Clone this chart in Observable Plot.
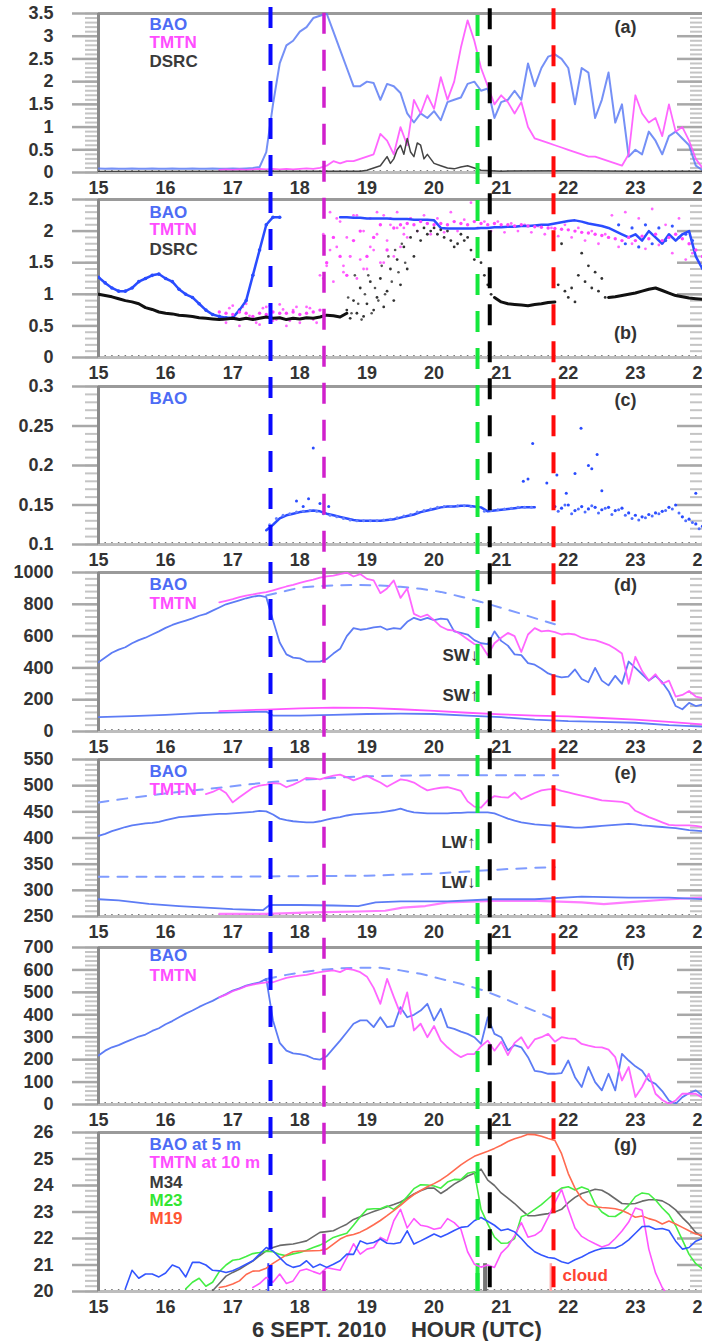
<!DOCTYPE html>
<html><head><meta charset="utf-8">
<script src="https://cdn.jsdelivr.net/npm/d3@7"></script>
<script src="https://cdn.jsdelivr.net/npm/@observablehq/plot@0.6"></script>
<style>
html,body{margin:0;padding:0;background:#fff;}
#wrap{position:relative;width:702px;height:1341px;overflow:hidden;font-family:"Liberation Sans",Arial,sans-serif;}
#xlabel{position:absolute;left:252px;top:1318px;font-size:22px;line-height:24px;font-weight:bold;color:#333;white-space:pre;font-family:"Liberation Sans",Arial,sans-serif;}
</style></head><body><div id="wrap"><div id="xlabel">6 SEPT. 2010    HOUR (UTC)</div></div><script>
// ---------- DATA (hours UTC, 6 Sept 2010) ----------
const hourTicks = [15,16,17,18,19,20,21,22,23,24];
const eventHours = [17.563, 18.36, 20.648, 20.83, 21.78];
const markerHours = [17.53, 20.648, 20.76, 21.74];
const markerTop = 21.05;

// (a)
const baoA = [0.09,0.08,0.09,0.08,0.08,0.09,0.08,0.08,0.09,0.08,
 0.08,0.09,0.08,0.08,0.09,0.08,0.08,0.09,0.08,0.08,
 0.09,0.08,0.09,0.1,0.12,0.45,1.5,2.4,2.8,2.9,
 3.1,3.2,3.4,3.45,3.5,3.1,2.7,2.3,1.9,1.9,
 2.0,1.97,1.6,1.95,1.9,1.75,1.3,1.1,1.3,1.2,
 1.35,1.15,1.55,1.6,1.65,1.95,2.0,1.8,1.85,1.2,
 1.55,1.6,1.8,1.6,2.4,1.9,2.3,2.55,2.6,2.5,
 2.3,1.5,2.3,2.2,1.2,1.6,2.2,1.1,1.5,0.35,
 0.5,0.4,0.9,0.7,0.4,0.8,0.9,0.75,0.6,0.15,
 0.05];
const tmtnA = [0.06,0.07,
 0.06,0.07,0.06,0.07,0.08,0.07,0.08,0.07,0.08,0.07,
 0.08,0.09,0.08,0.1,0.15,0.25,0.2,0.25,0.25,0.3,
 0.35,0.4,0.85,0.7,0.4,1.0,0.6,1.6,1.3,1.7,
 1.4,2.1,1.6,2.0,2.75,3.35,2.9,2.3,1.9,1.5,
 1.7,1.55,1.3,1.55,1.0,0.75,0.7,0.65,0.6,0.55,
 0.5,0.45,0.4,0.35,0.35,0.3,0.25,0.2,0.15,0.4,
 1.7,1.3,1.1,1.2,0.8,1.5,0.9,1.0,0.7,0.3,
 0.1];
const dsrcA = [[15.0,0.02],[18.9,0.03],[19.0,0.05],[19.1,0.1],[19.2,0.15],[19.3,0.35],[19.35,0.2],[19.4,0.3],[19.45,0.5],[19.5,0.6],[19.55,0.4],[19.6,0.75],[19.65,0.45],[19.7,0.35],[19.75,0.65],[19.8,0.6],[19.85,0.3],[19.9,0.4],[20.0,0.2],[20.1,0.15],[20.2,0.1],[20.3,0.08],[20.4,0.12],[20.5,0.15],[20.6,0.1],[20.7,0.05],[21.0,0.03],[22.0,0.04],[23.0,0.03],[24.0,0.03]];

// (b)
const baoB1 = [1.27,1.18,1.1,1.05,1.05,1.1,1.2,1.25,1.3,1.32,
 1.25,1.2,1.08,1.0,0.95,0.85,0.75,0.68,0.65,0.63,
 0.63,0.75,0.9,1.3,1.7,2.1,2.22,2.22];
const baoB2 = [2.22,2.22,2.21,2.21,
 2.2,2.2,2.2,2.2,2.19,2.19,2.19,2.18,2.18,2.18,
 2.17,2.05,2.04,2.04,2.04,2.04,2.04,2.05,2.05,2.06,
 2.06,2.07,2.07,2.08,2.08,2.09,2.1,2.1,2.12,2.14,
 2.16,2.17,2.15,2.12,2.1,2.08,2.05,2.0,1.95,1.9,
 1.95,1.85,2.0,1.9,1.8,1.95,1.85,1.95,2.0,1.6,
 1.4];
const baoBscatter = [2.1,1.8,2.05,1.75,2.1,1.8,2.05,1.85,2.08,1.9,1.95,1.85];
const tmtnB = [0.72,0.7,
 0.68,0.72,0.7,0.65,0.7,0.68,0.72,0.7,0.7,0.72,
 0.68,0.7,0.72,0.75,1.5,1.9,1.6,1.3,1.85,2.0,
 1.6,1.9,2.1,1.7,2.05,2.1,2.12,2.1,2.15,2.12,
 2.1,2.12,2.1,2.15,2.12,2.1,2.15,2.12,2.1,2.12,
 2.1,2.1,2.08,2.1,2.08,2.07,2.06,2.05,2.04,2.03,
 2.02,2.0,1.98,1.97,1.95,1.93,1.9,1.88,1.85,1.9,
 1.85,1.92,1.88,1.95,1.85,1.9,1.95,1.88,1.8,1.7,
 1.6];
const tmtnB2 = [0.6,0.78,0.62,0.8,0.66,0.55,0.78,0.82,0.6,0.76,
 0.58,0.8,0.62,0.78,0.55,1.25,1.7,2.2,1.45,1.6,
 2.25,1.4,1.75,2.3,1.5,2.2,2.05,1.95,2.2,2.0,
 2.25,1.95,2.2,1.98,2.3,2.0,2.18,2.45,2.05,2.15,
 2.0,2.15,1.98,2.12,2.0,2.1,1.98,2.08,1.95,2.05,
 1.92,2.1,1.9,2.05,1.85,2.0,1.8,1.95,2.25,1.75,
 2.3,1.8,2.2,1.72,2.35,1.78,2.1,1.65,2.2,1.55,
 1.65,1.5];
const tmtnB3 = [1.3,1.95,1.45,2.3,1.2,1.75,2.15,1.35,1.9,1.6,2.25,1.25,1.55,2.0,1.4,2.2,1.7,1.95,1.5,2.25,1.85,2.1,1.6,2.3,1.75,2.05,1.9,2.2];
const tmtnBlow = [0.55,0.82,0.5,0.85,0.6,0.52,0.8,0.58,0.84,0.5,0.75,0.55,0.8,0.6];
const dsrcB1 = [1.0,0.98,0.96,0.93,0.9,0.88,0.85,0.79,0.76,0.72,
 0.7,0.69,0.67,0.66,0.65,0.63,0.62,0.61,0.6,0.61,
 0.62,0.6,0.62,0.6,0.62,0.64,0.62,0.63,0.6,0.62,
 0.61,0.63,0.62,0.64,0.67,0.66,0.64,0.7];
const dsrcBscat1 = [0.75,0.62,0.9,0.7,1.1,0.65,0.85,1.2,0.75,0.95,
 1.25,0.8,1.05,1.4,0.9,1.55,1.15,1.75,1.4,1.9,
 1.6,2.0,1.85,2.05,1.95,2.0,2.05,1.95,2.02,1.9,
 2.0,1.85,1.75,1.8,1.95,1.85,1.9,1.7,1.55,1.75,
 1.5,1.3,1.15,1.0];
const dsrcBscat2 = [0.95,0.7,1.3,0.85,0.6,1.0,1.3,0.7,1.1,0.9,1.45,1.0,1.6,1.2,1.7,1.35,1.8,1.5];
const dsrcBscat3 = [1.15,1.8,1.05,0.95,1.1,0.88,1.3,1.65,1.2,1.45,1.1,1.35,1.05,1.25,0.95];
const dsrcB2 = [0.95,0.88,0.85,0.84,0.83,0.82,0.84,0.85,0.87,0.88];
const dsrcB3 = [0.95,0.96,0.98,1.0,1.02,1.05,1.08,1.1,1.06,1.02,0.98,0.96,0.94,0.93,0.92];

// (c)
const baoC = [0.118,0.125,0.133,0.137,0.139,
 0.141,0.142,0.143,0.142,0.139,0.137,0.135,0.133,0.131,0.13,
 0.13,0.13,0.13,0.131,0.132,0.134,0.136,0.138,0.141,0.143,
 0.145,0.147,0.148,0.148,0.149,0.149,0.148,0.147,0.142,0.143,
 0.144,0.145,0.146,0.147,0.147,0.147];
const baoC2 = [0.148,0.146,0.15,0.143,0.148,0.145,0.147,0.144,0.147,0.143,0.146,0.14,0.137,0.135,0.138,0.14,0.142,0.147,0.15,0.135,0.132,0.126,0.123];
const baoC3 = [0.142,0.15,0.139,0.145,0.141,0.149,0.14,0.146,0.138,0.144,0.137,0.133,0.131,0.134,0.136,0.139,0.143,0.145,0.14,0.13,0.128,0.12];
const baoCout = [[18.13,0.158],[17.95,0.155],[18.05,0.148],[18.2,0.222],[18.43,0.148],[18.3,0.152],[21.33,0.18],[21.4,0.183],[21.47,0.228],[21.68,0.178],[21.83,0.188],[21.97,0.165],[22.1,0.19],[22.19,0.247],[22.3,0.2],[22.35,0.196],[22.43,0.214],[22.5,0.168],[23.9,0.165]];

// (d) shortwave
const baoD = [436,465,495,515,530,555,575,590,610,630,
 652,670,685,698,712,728,740,760,780,800,
 812,825,838,848,855,845,700,560,485,465,
 460,440,440,440,455,490,520,600,650,640,
 645,655,660,640,650,645,690,715,700,715,
 700,710,705,630,620,610,575,555,550,630,
 570,540,485,480,430,420,395,365,350,340,
 345,390,330,310,400,320,290,350,300,440,
 400,360,320,350,310,250,160,140,180,160,
 170];
const tmtnD = [812,822,
 832,845,855,862,870,876,888,900,912,922,
 935,945,955,968,975,981,990,1000,975,990,
 960,950,870,900,950,840,900,740,720,735,
 700,660,640,635,610,580,550,545,480,555,
 590,620,600,500,610,650,630,635,625,610,
 615,610,590,580,575,560,545,520,490,300,
 470,380,320,360,300,320,220,230,255,220,
 210];
const clearD = [[17.5,855],[17.8,885],[18.0,905],[18.3,915],[18.6,920],[18.9,922],[19.2,918],[19.5,910],[19.8,898],[20.1,878],[20.4,848],[20.7,815],[21.0,778],[21.3,740],[21.6,700],[21.8,675]];
const baoDup = [[15.0,90],[15.5,97],[16.0,105],[16.5,115],[17.0,120],[17.5,125],[17.6,100],[18.0,100],[18.5,105],[19.0,110],[19.5,112],[20.0,110],[20.5,100],[21.0,90],[21.5,75],[22.0,65],[22.5,60],[23.0,55],[23.5,40],[24.0,30]];
const tmtnDup = [[16.8,128],[17.5,138],[18.0,145],[18.5,150],[19.0,148],[19.5,140],[20.0,130],[20.5,118],[21.0,108],[21.5,100],[22.0,95],[22.5,85],[23.0,75],[23.5,60],[24.0,45]];

// (e) longwave
const baoE = [404,408,413,417,421,424,426,428,429,431,
 434,437,440,441,442,443,444,445,446,446,
 447,448,449,450,452,451,445,437,434,432,
 431,430,430,432,435,438,440,443,445,446,
 447,448,449,451,453,456,452,449,448,447,
 447,447,447,448,448,449,449,449,449,447,
 442,437,433,430,428,426,425,424,423,422,
 421,420,420,421,422,423,424,425,426,427,
 426,424,423,422,421,420,419,417,415,414,
 413];
const tmtnE = [484,488,494,486,
 468,478,487,496,500,502,505,504,497,502,
 508,515,514,512,516,519,521,516,510,515,
 519,512,506,498,505,512,510,506,498,491,
 494,496,497,494,490,470,460,458,472,480,
 478,477,487,474,480,486,491,493,494,490,
 487,484,481,478,475,472,471,470,469,465,
 452,446,440,435,430,425,424,424,424,423,
 421];
const clearEup = [[15.0,468],[15.5,477],[16.0,485],[16.5,492],[17.0,499],[17.5,506],[18.0,511],[18.5,515],[19.0,518],[19.5,519],[20.0,520],[20.5,520],[21.0,520],[21.5,520],[21.85,520]];
const clearEdn = [[15.0,326],[16.0,326],[17.0,326],[18.0,327],[19.0,328],[19.5,330],[20.0,332],[20.5,336],[21.0,340],[21.5,343],[21.8,344]];
const baoEdn = [[15.0,283],[15.3,281],[15.75,274],[16.2,270],[16.6,267],[17.0,264],[17.45,262],[17.55,272],[18.0,272],[18.5,271],[18.87,270],[19.13,277],[19.5,279],[20.2,279],[20.87,283],[21.5,283],[22.2,288],[22.9,286],[23.5,286],[24.0,283]];
const tmtnEdn = [[16.8,255],[17.5,255],[18.2,258],[18.87,259.6],[19.27,261],[19.53,267],[19.87,270],[20.2,277],[20.87,280],[21.53,280],[22.2,277],[22.53,273.6],[22.87,277],[23.53,283],[24.0,286]];

// (f) net shortwave
const baoF = [218,240,255,265,278,290,303,312,328,340,
 358,372,389,405,419,435,449,462,478,492,
 508,518,530,538,545,560,375,275,240,228,
 225,218,205,200,215,250,285,322,360,375,
 375,345,389,345,350,434,389,400,419,449,
 375,427,345,337,325,315,300,270,389,315,
 300,241,265,255,211,150,145,137,137,140,
 196,122,78,167,100,63,137,63,226,196,
 170,150,107,92,60,18,3,33,50,63,
 40];
const tmtnF = [478,490,
 505,515,528,535,540,545,545,555,565,570,
 575,578,585,590,595,598,590,605,600,590,
 570,520,449,560,480,404,500,330,360,300,
 350,285,255,230,211,225,225,260,285,240,
 280,220,275,300,250,290,300,315,280,300,
 295,293,270,262,256,255,245,211,107,167,
 33,78,137,48,20,3,18,48,48,48,
 30];
const clearF = [[17.5,560],[17.8,578],[18.0,588],[18.3,600],[18.6,607],[18.9,610],[19.2,610],[19.5,598],[19.8,583],[20.1,560],[20.4,538],[20.7,512],[21.0,478],[21.3,440],[21.6,405],[21.8,380]];

// (g) temperature
const baoG = [20.1,20.8,20.5,20.66,20.66,20.55,
 20.7,21.0,20.9,20.55,21.1,21.1,21.0,20.8,20.78,20.72,
 20.78,20.9,21.03,21.16,21.41,21.66,21.53,21.28,21.03,20.91,
 20.97,21.16,20.91,21.03,20.91,21.03,21.16,21.41,21.4,21.91,
 21.8,21.85,21.98,21.82,21.8,21.85,22.29,21.79,21.91,22.04,
 22.17,22.06,22.17,22.3,22.42,22.45,22.67,22.79,22.65,22.5,
 22.3,22.36,22.25,22.0,21.72,21.5,21.38,21.28,21.25,21.12,
 21.06,21.2,21.3,21.44,21.55,21.62,21.64,21.64,21.76,21.95,
 22.2,22.45,22.46,22.35,22.38,22.3,21.9,21.6,21.66,21.9,
 22.0];
const tmtnG = [20.15,20.3,20.53,20.35,20.66,20.3,20.4,
 20.78,20.85,20.75,20.66,20.9,20.85,20.8,21.28,21.8,21.41,
 21.6,21.66,22.04,21.91,22.67,23.1,22.4,22.75,22.5,22.45,
 22.35,22.4,22.75,22.6,22.35,21.5,21.03,20.92,21.0,20.91,
 21.45,21.7,22.1,22.6,22.05,22.12,22.3,22.8,23.35,23.85,
 23.1,22.4,22.08,21.93,21.8,21.68,21.76,22.0,22.28,22.62,
 23.15,23.07,21.6,20.7,20.15,19.8];
const m34 = [20.03,20.3,20.58,
 20.72,20.84,21.0,21.15,21.35,21.53,21.66,21.74,21.77,21.79,
 21.85,21.91,22.07,22.23,22.26,22.29,22.42,22.54,22.72,22.82,
 22.92,23.02,23.1,23.2,23.28,23.38,23.52,23.68,23.8,23.9,
 23.9,23.7,23.86,24.05,24.2,24.36,24.46,24.62,24.2,24.0,
 23.72,23.52,23.32,23.08,22.86,22.86,22.9,22.94,23.0,23.1,
 23.35,23.55,23.7,23.77,23.86,23.82,23.68,23.5,23.32,23.3,
 23.32,23.41,23.46,23.46,23.42,23.28,23.08,22.79,22.54,22.23,
 22.05];
const m23 = [20.1,20.35,20.5,20.2,20.35,20.75,21.0,
 21.18,21.22,21.32,21.43,21.47,21.52,21.5,21.4,21.35,21.42,
 21.47,21.56,21.66,21.75,21.88,22.04,22.12,22.2,22.5,22.82,
 23.1,23.12,23.12,23.23,23.1,23.3,23.58,23.88,24.03,24.02,
 23.98,23.9,24.13,24.23,24.22,24.46,24.52,23.1,22.55,22.05,
 21.82,21.83,22.0,22.82,22.92,23.1,23.28,23.5,23.72,23.9,
 23.95,23.83,23.94,23.85,23.3,23.0,22.84,22.83,23.0,23.25,
 23.58,23.72,23.68,23.45,23.15,22.9,22.48,21.95,21.4,21.05,
 20.85];
const m19 = [20.15,20.2,
 20.28,20.4,20.64,20.77,20.78,20.88,21.06,21.22,21.38,21.5,
 21.53,21.53,21.54,21.55,21.6,21.79,21.98,22.1,22.15,22.24,
 22.37,22.52,22.68,22.86,23.05,23.25,23.47,23.66,23.81,23.95,
 24.07,24.21,24.38,24.58,24.78,24.95,25.1,25.2,25.29,25.4,
 25.52,25.66,25.76,25.84,25.93,25.92,25.86,25.77,25.7,25.2,
 24.45,23.9,23.5,23.27,23.2,23.17,23.15,23.12,23.06,22.94,
 22.8,22.85,22.75,22.68,22.55,22.66,22.55,22.42,22.29,22.17,
 22.12];

// ---------- helpers ----------
const FONT = '"Liberation Sans", Arial, Helvetica, sans-serif';
const BLUE = "#4d6cf5", MAG = "#ff4dff", DARK = "#3a3a3a";
const grid = (t0, step, vals) => vals.map((v, i) => ({t: +(t0 + i * step).toFixed(3), v}));
const pts = arr => arr.map(([t, v]) => ({t, v}));
const xMinor = d3.range(15, 24.001, 0.1);
const wrap = document.getElementById("wrap");
const line = (data, stroke, w, extra = {}) => Plot.line(data, {x: "t", y: "v", stroke, strokeWidth: w, clip: true, ...extra});
const dots = (data, fill, r) => Plot.dot(data, {x: "t", y: "v", r, fill, clip: true});
const note = (s, dx, dy, fill, size = 17) => Plot.text([s], {frameAnchor: "top-left", dx, dy, fill, fontSize: size, fontWeight: "bold", textAnchor: "start", lineAnchor: "middle"});

function panel(o) {
  const mt = 8, mb = 30;
  const [y0, y1] = o.domain;
  const marks = [
    Plot.axisY(o.minor, {anchor: "left", tickSize: 13, stroke: "#c4c4c4", strokeWidth: 2, fill: "none", label: null}),
    Plot.axisY(o.minor, {anchor: "right", tickSize: 13, dx: -13, stroke: "#c4c4c4", strokeWidth: 2, fill: "none", label: null}),
    Plot.axisY(o.major, {anchor: "left", tickSize: 26, tickPadding: 19, stroke: "#a8a8a8", strokeWidth: 2.5, fill: "#333", fontSize: 18, fontWeight: "bold", tickFormat: d => String(d), label: null}),
    Plot.axisY(o.major, {anchor: "right", tickSize: 26, dx: -26, stroke: "#a8a8a8", strokeWidth: 2.5, fill: "none", label: null}),
    Plot.axisX(xMinor, {anchor: "bottom", tickSize: 3, dy: -2, stroke: "#777", strokeWidth: 1.5, fill: "none", label: null}),
    Plot.ruleY([y1], {stroke: "#9a9a9a", strokeWidth: 3}),
    Plot.ruleY([y0], {stroke: "#bdbdbd", strokeWidth: 3}),
    Plot.ruleX([15], {stroke: "#8a8a8a", strokeWidth: 3}),
    Plot.axisX(hourTicks, {anchor: "bottom", tickSize: 0, tickPadding: 9, fill: "#333", fontSize: 18, fontWeight: "bold", tickFormat: d => String(d), label: null}),
    ...o.marks,
    ...o.legend.map(([s, c, dy]) => note(s, 51, dy, c)),
    Plot.text([o.tag], {frameAnchor: "top-left", dx: 527, dy: o.tagDy, fill: "#333", fontSize: 18, fontWeight: "bold", textAnchor: "middle", lineAnchor: "middle"})
  ];
  const svg = Plot.plot({
    width: 702, height: o.h + mt + mb, marginTop: mt, marginBottom: mb, marginLeft: 98, marginRight: 0,
    x: {domain: [15, 24], axis: null}, y: {domain: o.domain, axis: null},
    style: {background: "transparent", overflow: "visible", fontFamily: FONT},
    marks
  });
  svg.style.position = "absolute"; svg.style.left = "0px"; svg.style.top = (o.top - mt) + "px";
  wrap.appendChild(svg);
}

// (a)
panel({top: 13, h: 159, domain: [0, 3.5], major: d3.range(0, 3.501, 0.5).map(d => +d.toFixed(1)), minor: d3.range(0, 3.501, 0.1),
  tag: "(a)", tagDy: 14,
  legend: [["BAO", BLUE, 11], ["TMTN", MAG, 29], ["DSRC", DARK, 48]],
  marks: [
    line(grid(15, 0.1, baoA), "#5d7cf5", 2, {strokeOpacity: 0.85}),
    line(grid(16.8, 0.1, tmtnA), "#ff55ff", 1.8, {strokeOpacity: 0.9}),
    line(pts(dsrcA), "#444", 1.5)
  ]});

// (b)
panel({top: 199, h: 158, domain: [0, 2.5], major: [0, 0.5, 1, 1.5, 2, 2.5], minor: d3.range(0, 2.501, 0.1),
  tag: "(b)", tagDy: 134,
  legend: [["BAO", BLUE, 13], ["TMTN", MAG, 30], ["DSRC", DARK, 50]],
  marks: [
    dots(grid(16.9, 0.1, tmtnBlow), "#ff66ff", 1.4),
    dots(grid(16.85, 0.1, tmtnB2), "#ff66ff", 1.4),
    dots(grid(18.3, 0.05, tmtnB3), "#ff66ff", 1.4),
    line(grid(15, 0.1, baoB1), "#2a4cff", 2.5),
    dots(grid(15, 0.1, baoB1), "#2a4cff", 1.8),
    line(grid(18.6, 0.1, baoB2), "#2a4cff", 2.5),
    dots(grid(22.75, 0.1, baoBscatter), "#3355ff", 1.6),
    dots(grid(16.8, 0.1, tmtnB), "#ff44ff", 1.7),
    line(grid(15, 0.1, dsrcB1), "#111", 3),
    dots(grid(18.7, 0.05, dsrcBscat1), "#333", 1.4),
    dots(grid(18.72, 0.05, dsrcBscat2), "#555", 1.3),
    dots(grid(21.85, 0.05, dsrcBscat3), "#333", 1.4),
    line(grid(20.9, 0.1, dsrcB2), "#111", 3),
    line(grid(22.6, 0.1, dsrcB3), "#111", 3)
  ]});

// (c)
panel({top: 386, h: 158, domain: [0.1, 0.3], major: [0.1, 0.15, 0.2, 0.25, 0.3], minor: d3.range(0.1, 0.3001, 0.01),
  tag: "(c)", tagDy: 14,
  legend: [["BAO", BLUE, 12]],
  marks: [
    line(grid(17.5, 0.1, baoC), "#2a4cff", 2.5),
    dots(grid(17.55, 0.1, baoC.slice(1)), "#6680ff", 1.5),
    dots(grid(21.8, 0.1, baoC2), "#2a4cff", 1.6),
    dots(grid(21.85, 0.1, baoC3), "#4d6cff", 1.5),
    dots(pts(baoCout), "#2a4cff", 1.5)
  ]});

// (d)
panel({top: 572, h: 159, domain: [0, 1000], major: [0, 200, 400, 600, 800, 1000], minor: d3.range(0, 1000.1, 40),
  tag: "(d)", tagDy: 13,
  legend: [["BAO", BLUE, 12], ["TMTN", MAG, 31]],
  marks: [
    line(pts(clearD), "#7f9bff", 2, {strokeDasharray: "10,9"}),
    line(pts(baoDup), "#5d7cf5", 1.8),
    line(pts(tmtnDup), "#ff55ff", 1.8),
    line(grid(15, 0.1, baoD), "#5d7cf5", 1.8),
    line(grid(16.8, 0.1, tmtnD), "#ff55ff", 1.8, {strokeOpacity: 0.9}),
    note("SW\u2193", 344, 83, "#333"),
    note("SW\u2191", 344, 123, "#333")
  ]});

// (e)
panel({top: 759, h: 157, domain: [250, 550], major: [250, 300, 350, 400, 450, 500, 550], minor: d3.range(250, 550.1, 10),
  tag: "(e)", tagDy: 14,
  legend: [["BAO", BLUE, 12], ["TMTN", MAG, 30]],
  marks: [
    line(pts(clearEup), "#7f9bff", 2, {strokeDasharray: "10,9"}),
    line(pts(clearEdn), "#7f9bff", 2, {strokeDasharray: "10,9"}),
    line(pts(tmtnEdn), "#ff66ff", 2.2, {strokeOpacity: 0.85}),
    line(pts(baoEdn), "#5d7cf5", 1.8),
    line(grid(15, 0.1, baoE), "#5d7cf5", 1.8),
    line(grid(16.6, 0.1, tmtnE), "#ff55ff", 1.8, {strokeOpacity: 0.9}),
    note("LW\u2191", 343, 83, "#333"),
    note("LW\u2193", 343, 123, "#333")
  ]});

// (f)
panel({top: 947, h: 157, domain: [0, 700], major: [0, 100, 200, 300, 400, 500, 600, 700], minor: d3.range(0, 700.1, 20),
  tag: "(f)", tagDy: 13,
  legend: [["BAO", BLUE, 8], ["TMTN", MAG, 28]],
  marks: [
    line(pts(clearF), "#7f9bff", 2, {strokeDasharray: "10,9"}),
    line(grid(15, 0.1, baoF), "#5d7cf5", 1.8),
    line(grid(16.8, 0.1, tmtnF), "#ff55ff", 1.8, {strokeOpacity: 0.9})
  ]});

// (g)
const markerColors = ["#3344ff", "#22ee44", "#777777", "#ffaaaa"];
const markerWidths = [2, 4, 4, 2.5];
panel({top: 1132, h: 159, domain: [20, 26], major: [20, 21, 22, 23, 24, 25, 26], minor: d3.range(20, 26.01, 0.2),
  tag: "(g)", tagDy: 13,
  legend: [["BAO at 5 m", BLUE, 12], ["TMTN at 10 m", MAG, 30], ["M34", DARK, 50], ["M23", "#33e633", 68], ["M19", "#ff5533", 86]],
  marks: [
    ...markerHours.map((t, i) => Plot.ruleX([t], {y1: 20, y2: markerTop, stroke: markerColors[i], strokeWidth: markerWidths[i]})),
    line(grid(16.7, 0.1, m34), "#6a6a6a", 1.6),
    line(grid(16.3, 0.1, m23), "#44ee44", 1.6),
    line(grid(16.8, 0.1, m19), "#ff6a50", 1.6),
    line(grid(17.3, 0.1, tmtnG), "#ff55ff", 1.6),
    line(grid(15.4, 0.1, baoG), "#3355ff", 1.6),
    note("cloud", 464, 143, "#ff4433", 17)
  ]});

// vertical dashed event lines across all panels
const evColors = ["#0a0aff", "#d020cc", "#14e83c", "#000000", "#ff0a0a"];
const evWidths = [4, 3.5, 4, 4, 4];
const evOffsets = [-2, -7.7, -10, -3.3, -3.3];
const overlay = Plot.plot({
  width: 702, height: 1341, marginTop: 5, marginBottom: 50, marginLeft: 98, marginRight: 0,
  x: {domain: [15, 24], axis: null}, y: {domain: [0, 1], axis: null},
  style: {background: "transparent", overflow: "visible"},
  marks: eventHours.map((t, i) => Plot.ruleX([t], {stroke: evColors[i], strokeWidth: evWidths[i], strokeDasharray: "21,16", strokeDashoffset: evOffsets[i]}))
});
overlay.style.position = "absolute"; overlay.style.left = "0px"; overlay.style.top = "0px";
wrap.appendChild(overlay);
</script></body></html>
